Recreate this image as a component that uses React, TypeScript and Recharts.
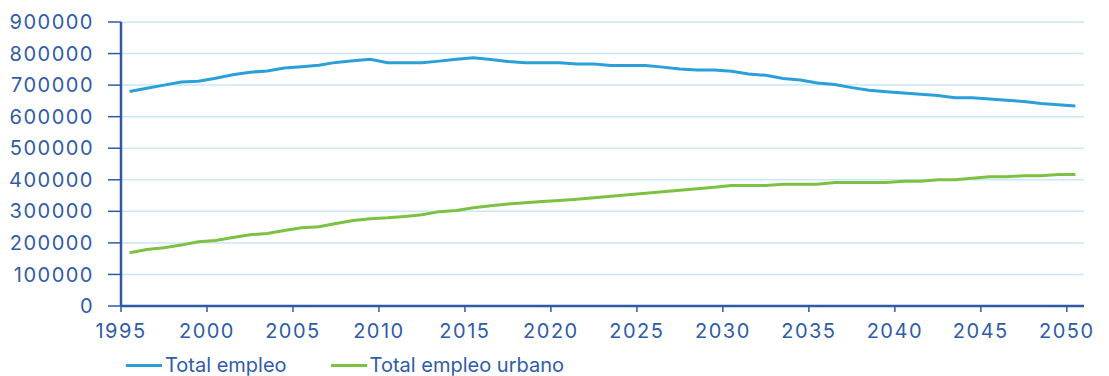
import React from "react";
import { LineChart, Line, XAxis, YAxis, CartesianGrid, Legend } from "recharts";

const years = Array.from({ length: 56 }, (_, i) => 1995 + i);

const totalEmpleo = [
  680000, 690000, 700000, 710000, 712000, 722000, 733000, 741000, 745000, 754000,
  758000, 763000, 772000, 777000, 782000, 771000, 771000, 771000, 776000, 782000,
  787000, 781000, 775000, 771000, 771000, 771000, 767000, 767000, 762000, 762000,
  762000, 757000, 751000, 748000, 748000, 744000, 735000, 731000, 721000, 716000,
  707000, 702000, 692000, 684000, 679000, 675000, 671000, 667000, 660000, 660000,
  656000, 652000, 648000, 642000, 638000, 634000,
];

const totalUrbano = [
  169000, 179000, 184500, 193000, 203500, 207500, 217000, 226000, 230000, 239500,
  248000, 251000, 261500, 271000, 276500, 279500, 284000, 289000, 299000, 303000,
  311500, 318000, 323000, 327500, 331500, 334500, 338500, 343000, 348000, 352500,
  357500, 362000, 366500, 371500, 376000, 382000, 382000, 381500, 386000, 386000,
  386000, 391500, 391500, 391500, 391500, 395000, 395000, 400000, 400000, 404500,
  409500, 409500, 413000, 413000, 417000, 417000,
];

const xTicks = [1995, 2000, 2005, 2010, 2015, 2020, 2025, 2030, 2035, 2040, 2045, 2050];
const yTicks = [0, 100000, 200000, 300000, 400000, 500000, 600000, 700000, 800000, 900000];

// each yearly value sits in the middle of its year slot
const data = years.map((y, i) => ({
  year: y,
  mid: y + 0.5,
  total: totalEmpleo[i],
  urbano: totalUrbano[i],
}));

const AXIS = "#2c5aa5";
const TEXT = "#2f5ca8";
const FONT = "Inter, 'Open Sans', sans-serif";

const tickStyle = { fill: TEXT, fontSize: 20, fontFamily: FONT, letterSpacing: 1.5 };

function LegendContent({ payload }: any) {
  return (
    <div style={{ display: "flex", alignItems: "center", gap: 44, height: 20 }}>
      {(payload || []).map((p: any) => (
        <div key={p.value} style={{ display: "flex", alignItems: "center" }}>
          <span style={{ width: 36, height: 3, background: p.color, display: "inline-block", marginRight: 3 }} />
          <span style={{ color: TEXT, fontSize: 20, lineHeight: "20px", fontFamily: FONT }}>{p.value}</span>
        </div>
      ))}
    </div>
  );
}

export default function App() {
  return (
    <div style={{ position: "absolute", left: 0, top: 0, background: "#fff" }}>
      <LineChart width={1109} height={376} data={data} margin={{ top: 22, right: 25, bottom: 6, left: 0 }}>
        <CartesianGrid vertical={false} stroke="#c9e7f6" strokeWidth={1.5} />
        <XAxis
          type="number"
          dataKey="mid"
          domain={[1995, 2051]}
          ticks={xTicks}
          interval={0}
          tick={tickStyle}
          tickSize={6}
          tickMargin={12}
          height={40}
          axisLine={{ stroke: AXIS, strokeWidth: 2.5 }}
          tickLine={{ stroke: AXIS, strokeWidth: 1.5 }}
        />
        <YAxis
          domain={[0, 900000]}
          ticks={yTicks}
          interval={0}
          width={121}
          tick={tickStyle}
          tickSize={13}
          tickMargin={14}
          axisLine={{ stroke: AXIS, strokeWidth: 2.5 }}
          tickLine={{ stroke: AXIS, strokeWidth: 1.5 }}
        />
        <Legend
          verticalAlign="bottom"
          align="left"
          height={24}
          content={<LegendContent />}
          wrapperStyle={{ left: 126, top: 355, bottom: "auto" }}
        />
        <Line
          type="linear"
          dataKey="total"
          name="Total empleo"
          stroke="#2a9fd9"
          strokeWidth={3}
          dot={false}
          isAnimationActive={false}
        />
        <Line
          type="linear"
          dataKey="urbano"
          name="Total empleo urbano"
          stroke="#7cc142"
          strokeWidth={3}
          dot={false}
          isAnimationActive={false}
        />
      </LineChart>
    </div>
  );
}
